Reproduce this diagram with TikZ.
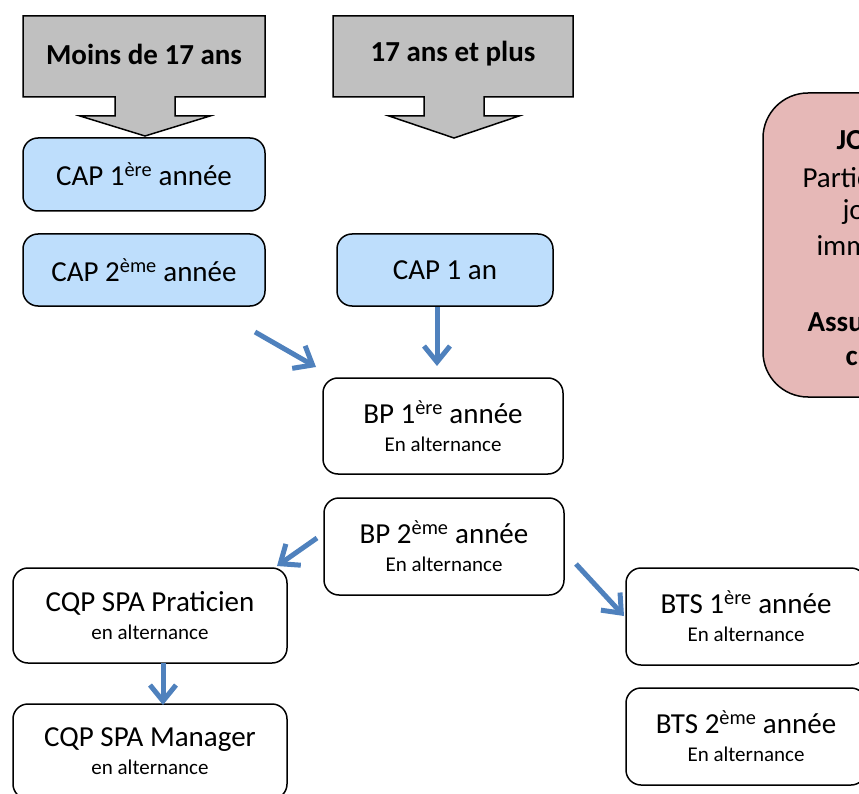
\documentclass[tikz,border=0pt]{standalone}
\usepackage{fontspec}
\setmainfont{Carlito}
\usetikzlibrary{arrows.meta}

\definecolor{capblue}{RGB}{190,222,252}
\definecolor{agegray}{RGB}{192,192,192}
\definecolor{jobpink}{RGB}{230,184,183}
\definecolor{flowblue}{RGB}{79,129,189}

\begin{document}
\begin{tikzpicture}%
[x=1pt, y=-1pt,%
big/.style={font=\fontsize{29}{33}\selectfont},%
bigbold/.style={font=\fontsize{29}{33}\selectfont\bfseries},%
cursus/.style={draw, line width=1.5pt, rounded corners=15pt, align=center, inner sep=0pt, big},%
capbox/.style={cursus, fill=capblue},%
altbox/.style={cursus, fill=white},%
flow/.style={draw=flowblue, line width=5pt, -{Straight Barb[length=16pt,width=26pt]}}]
\useasboundingbox (0,0) rectangle (859,794);
\clip (0,0) rectangle (859,794);
% age callouts
\draw[fill=agegray, line width=1.5pt] (23,16) -- (265,16) -- (265,97) -- (175,97) -- (175,116) -- (210,116) -- (145,136) -- (80,116) -- (115,116) -- (115,97) -- (23,97) -- cycle;
\node[bigbold] (moins) at (144,54) {Moins de 17 ans};
\draw[fill=agegray, line width=1.5pt] (333,16) -- (573,16) -- (573,97) -- (484,97) -- (484,116) -- (519,116) -- (454,138) -- (389,116) -- (424,116) -- (424,97) -- (333,97) -- cycle;
\node[bigbold] (plus) at (453,54) {17 ans et plus};
% CAP
\node[capbox, minimum width=242pt, minimum height=73pt] (cap1) at (144,174.5) {CAP 1\textsuperscript{ère} année};
\node[capbox, minimum width=242pt, minimum height=72pt] (cap2) at (144,270) {CAP 2\textsuperscript{ème} année};
\node[capbox, minimum width=216pt, minimum height=72pt] (cap1an) at (445,270) {CAP 1 an};
% BP, CQP, BTS
\node[altbox, minimum width=240pt, minimum height=96pt] (bp1) at (443,426) {BP 1\textsuperscript{ère} année\\[-5pt]{\fontsize{21}{25}\selectfont En alternance}};
\node[altbox, minimum width=240pt, minimum height=97pt] (bp2) at (444,546.5) {BP 2\textsuperscript{ème} année\\[-5pt]{\fontsize{21}{25}\selectfont En alternance}};
\node[altbox, minimum width=274pt, minimum height=95pt] (cqpprat) at (150,615.5) {CQP SPA Praticien\\[-5pt]{\fontsize{21}{25}\selectfont en alternance}};
\node[altbox, minimum width=274pt, minimum height=95pt] (cqpman) at (150,751.5) {CQP SPA Manager\\[-5pt]{\fontsize{21}{25}\selectfont en alternance}};
\node[altbox, minimum width=240pt, minimum height=97pt] (bts1) at (746,616.5) {BTS 1\textsuperscript{ère} année\\[-5pt]{\fontsize{21}{25}\selectfont En alternance}};
\node[altbox, minimum width=240pt, minimum height=97pt] (bts2) at (746,736.5) {BTS 2\textsuperscript{ème} année\\[-5pt]{\fontsize{21}{25}\selectfont En alternance}};
% jobs box
\draw[fill=jobpink, line width=1.5pt, rounded corners=45pt] (763,93) rectangle (1000,397);
\node[bigbold, anchor=west] (jobtitle) at (833,140) {JO};
\node[big, anchor=west] (jobline1) at (799,178) {Partic};
\node[big, anchor=west] (jobline2) at (839,212) {jo};
\node[big, anchor=west] (jobline3) at (813,246) {imm};
\node[bigbold, anchor=west] (jobline4) at (804,322) {Assu};
\node[bigbold, anchor=west] (jobline5) at (842,358) {c};
% arrows
\coordinate (f1a) at (255,332);
\coordinate (f1b) at (316,367);
\coordinate (f2a) at (437,307);
\coordinate (f2b) at (437,366);
\coordinate (f3a) at (317,538);
\coordinate (f3b) at (277,566);
\coordinate (f4a) at (576,564);
\coordinate (f4b) at (624,616);
\coordinate (f5a) at (163,663);
\coordinate (f5b) at (163,705);
\draw[flow] (f1a) -- (f1b);
\draw[flow] (f2a) -- (f2b);
\draw[flow] (f3a) -- (f3b);
\draw[flow] (f4a) -- (f4b);
\draw[flow] (f5a) -- (f5b);
\end{tikzpicture}
\end{document}
